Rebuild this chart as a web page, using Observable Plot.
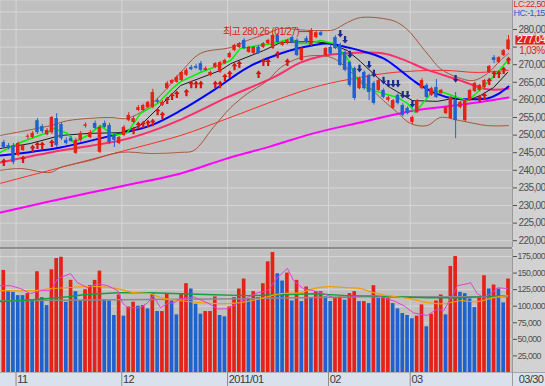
<!DOCTYPE html>
<html><head><meta charset="utf-8">
<script src="https://cdn.jsdelivr.net/npm/d3@7"></script>
<script src="https://cdn.jsdelivr.net/npm/@observablehq/plot@0.6"></script>
<style>
body{margin:0;background:#ffffff;}
#chart{position:relative;width:545px;height:386px;background:#d2d2d2;overflow:hidden;}
#chart svg{position:absolute;left:0;}
#chart svg text{letter-spacing:-0.6px;}
#strip{position:absolute;left:0;top:372px;width:545px;height:14px;background:#d9e1ec;border-top:1px solid #a0a4aa;box-sizing:border-box;}
#sep{position:absolute;left:0;top:247px;width:512px;height:2px;background:#8e8e8e;}
</style></head>
<body><div id="chart"><div id="strip"></div></div>
<script>
// ---------- data ----------
const openP = [247.9,247.0,247.0,244.2,245.6,249.4,249.3,254.1,252.4,250.1,
250.7,254.7,253.0,248.5,249.0,244.8,248.5,252.5,249.3,253.3,
245.1,253.3,252.7,249.9,247.6,249.9,254.1,253.6,257.0,257.0,
257.8,257.8,259.8,258.4,263.2,264.7,265.0,265.5,267.0,269.2,
269.5,270.3,268.4,266.9,269.2,267.8,270.3,272.0,274.0,274.9,
276.9,273.5,273.2,274.9,274.9,276.0,274.6,278.3,275.5,276.0,
277.7,276.9,271.2,277.4,275.5,277.7,279.1,272.6,274.9,277.7,
275.5,273.5,270.6,268.9,263.2,267.8,266.9,264.7,262.7,262.7,
259.9,257.6,261.3,258.4,257.6,253.6,256.4,263.2,264.1,261.3,
263.5,261.8,256.1,254.7,259.8,257.8,254.1,259.8,262.4,262.7,
263.5,267.8,272.0,270.6,272.6,274.3];
const highP = [248.5,247.6,247.6,248.0,247.3,250.2,251.0,254.7,253.0,251.9,
255.3,256.1,253.5,249.2,249.6,249.0,251.0,253.5,251.3,254.0,
252.7,254.0,253.3,250.5,249.6,252.7,256.4,255.3,258.4,258.8,
259.6,263.0,260.4,259.8,265.2,265.8,266.9,268.1,268.9,269.8,
270.1,270.9,269.4,268.2,270.6,270.9,271.6,273.6,275.8,276.3,
277.4,275.2,275.2,275.5,276.3,277.2,278.6,278.9,276.6,277.2,
278.3,277.4,274.9,278.0,280.26,279.4,279.6,274.9,275.5,278.2,
276.1,274.0,271.0,269.3,266.5,268.2,267.3,265.2,265.9,263.1,
261.0,260.1,261.7,258.9,258.0,255.4,260.1,266.0,264.6,263.6,
265.8,263.0,258.1,261.0,262.1,259.6,260.1,263.0,265.0,264.4,
265.8,269.8,272.6,272.3,274.3,278.3];
const lowP = [246.2,245.8,241.6,243.9,245.3,248.8,249.0,250.2,250.5,249.8,
250.2,246.5,248.5,247.2,247.9,244.5,248.0,252.0,249.0,251.5,
244.8,251.9,247.3,246.5,247.3,249.6,253.8,253.3,256.7,256.7,
257.5,257.5,258.9,258.1,262.9,264.4,264.7,265.2,266.7,268.3,
268.7,268.0,268.1,266.6,268.9,267.5,270.0,271.7,273.7,274.6,
274.3,273.2,272.9,272.9,274.6,275.7,274.3,275.9,275.2,275.7,
276.0,272.3,270.9,276.0,275.2,277.4,278.0,272.3,272.7,274.3,
269.5,268.0,263.6,259.8,262.9,262.8,259.8,258.5,262.4,260.3,
259.4,257.3,258.6,255.2,255.8,253.0,256.1,262.9,260.4,261.0,
260.4,261.5,255.8,254.4,249.0,257.5,253.8,259.5,262.1,262.4,
263.2,267.5,270.3,270.3,272.3,274.0];
const closeP = [246.5,246.2,242.2,247.6,247.0,249.7,250.5,250.7,251.0,251.3,
255.0,247.0,249.0,247.6,248.2,248.5,250.5,252.9,250.7,251.9,
252.2,252.2,247.9,248.5,249.3,252.2,255.6,254.7,257.8,258.4,
259.3,262.1,259.3,259.3,264.7,265.5,266.4,267.8,268.4,268.6,
269.0,268.4,268.9,267.8,270.3,270.6,271.2,273.2,275.5,276.0,
274.6,274.9,274.9,273.2,276.0,276.9,278.3,276.3,276.3,276.9,
276.3,272.6,274.6,276.3,279.7,279.1,278.3,274.6,273.0,274.6,
269.8,268.4,264.1,260.4,266.1,263.2,262.1,259.0,265.5,260.7,
260.6,259.8,259.0,255.6,256.1,255.0,259.8,265.5,260.7,263.2,
260.7,262.7,257.8,260.7,254.1,259.3,259.8,262.7,264.7,264.1,
265.5,269.5,271.2,272.0,274.0,277.04];
// volume in thousands of shares, and the colour direction of each volume bar
const volumeK = [154,123,121,116,116,119,110,152,113,101,155,172,174,106,139,122,108,125,131,139,
153,110,108,86,117,85,99,106,100,101,96,120,92,92,119,108,87,
119,134,126,103,88,92,92,114,86,84,99,113,126,141,111,122,113,134,167,181,
149,138,150,108,139,107,129,113,122,122,114,107,113,114,109,119,122,107,
107,104,131,112,113,112,104,96,89,86,81,85,102,69,88,108,117,87,160,175,
121,119,111,98,113,146,126,132,126,105,141];
const volDir = ("RBBBBRBRBBRRRBRBBRRRRBBBRBRRBRBRBRRBB" +
  "RRBBBRRRBBRRRRBRBRRRBBRBRBRBRRBBRRBRRB" +
  "RBRBRRBBBBBRRBRRRBRRBBBBRRBRBBR").split("");

// moving averages: [bar index, value]
const ma5 = [[-0.7,245.1],[2.85,247.6],[6.2,249.3],[9.1,250.7],[10.3,251.9],[13.3,250.5],[14.5,247.9],[17.4,249.9],[20.1,252.7],[22.8,249.9],[25.7,250.7],[28.4,256.1],[32.0,259.0],[35.3,263.5],[36.8,265.2],[40.9,267.8],[43.6,269.2],[47.2,271.2],[49.2,274.6],[53.4,275.5],[56.1,276.0],[59.6,277.4],[61.7,276.0],[63.2,276.0],[65.9,276.9],[68.6,276.0],[71.5,271.8],[73.2,266.4],[75.6,263.2],[79.0,261.8],[81.9,260.7],[84.0,259.0],[85.6,256.4],[87.3,259.3],[89.4,262.7],[91.5,262.1],[94.4,260.7],[96.5,259.8],[98.5,262.1],[100.6,264.9],[102.7,267.8],[104.8,271.2]];
const ma10 = [[-0.7,246.2],[5.5,247.6],[11.8,249.9],[18.0,250.5],[24.3,250.7],[28.4,252.7],[32.6,258.4],[36.8,264.1],[45.1,268.4],[47.2,270.3],[54.0,274.0],[57.6,276.3],[64.4,276.6],[68.0,276.0],[71.5,274.0],[74.2,270.9],[77.7,266.4],[80.4,263.5],[85.0,259.8],[90.2,259.6],[93.5,260.4],[96.5,259.8],[99.2,261.3],[101.9,263.5],[104.8,267.8]];
const ma20 = [[-0.7,244.2],[11.8,246.5],[24.3,250.5],[30.5,252.7],[36.8,257.0],[43.6,262.7],[50.7,269.2],[57.6,273.2],[64.4,275.5],[67.3,276.0],[71.5,274.9],[74.2,274.0],[79.0,271.8],[82.5,268.4],[85.2,265.5],[86.7,264.1],[90.0,261.8],[93.5,260.4],[97.0,260.2],[100.6,260.4],[103.0,261.8],[105.0,263.8]];
const ma40 = [[-0.7,242.2],[11.8,245.6],[24.3,248.5],[30.5,251.0],[36.8,254.4],[46.5,260.7],[56.1,266.4],[61.7,270.6],[66.0,272.4],[70.7,273.2],[79.0,273.2],[83.0,271.5],[88.0,268.6],[95.0,265.5],[100.6,263.0],[105.0,263.2]];
const ma60 = [[-0.7,236.3],[11.8,240.8],[24.3,245.3],[36.8,249.9],[46.5,254.7],[57.6,260.4],[65.9,264.1],[74.2,266.4],[81.1,267.8],[91.5,268.4],[98.5,267.8],[105.0,268.4]];
const ma120 = [[-0.7,228.0],[8.7,230.9],[18.1,233.7],[27.4,236.3],[36.8,239.1],[46.5,243.4],[55.5,246.8],[64.4,250.5],[74.2,253.6],[84.6,256.8],[95.0,258.6],[105.0,260.7]];
const bbUpper = [[-0.7,249.9],[9.7,252.7],[13.3,254.1],[22.2,255.0],[25.3,254.7],[28.4,256.4],[32.6,261.3],[36.8,267.8],[40.9,273.2],[47.2,274.9],[50.7,276.9],[54.9,278.9],[57.6,280.3],[61.7,279.9],[65.9,279.7],[68.6,279.9],[71.5,282.0],[74.2,283.4],[79.0,283.1],[81.9,282.0],[84.6,279.1],[86.7,275.5],[88.5,272.5],[90.8,268.9],[94.4,266.4],[97.7,265.5],[100.6,267.5],[103.3,271.2],[105.0,273.2]];
const bbLower = [[-0.7,240.0],[3.5,240.5],[9.7,239.4],[11.8,240.8],[18.0,242.8],[24.3,245.1],[30.5,244.8],[36.8,245.1],[39.5,245.6],[43.6,252.2],[47.2,257.8],[50.7,261.8],[54.9,265.5],[57.6,269.2],[61.7,272.0],[65.9,272.6],[68.6,271.8],[70.7,269.8],[73.2,266.7],[75.6,264.1],[79.0,259.8],[81.9,256.4],[84.6,253.3],[88.1,252.7],[90.8,255.0],[95.0,254.1],[100.6,252.7],[105.0,252.7]];
// volume moving averages (thousands)
const vma5 = [[-0.7,131],[1.4,131],[3.5,126.5],[5.6,119],[7.6,123.5],[9.7,123.5],[11.2,141.7],[13.9,149.2],[15.3,135.6],[17.4,128],[19.5,134],[21.6,131],[23.7,123.5],[24.7,105],[25.7,97.7],[28.4,97.7],[29.9,105],[31.1,116],[32.6,97.7],[34.0,104],[35.3,105],[36.8,111],[39.5,114],[42.4,105],[44.5,96],[46.5,96],[48.6,104],[50.7,113],[52.8,120.5],[54.9,123.5],[56.9,143],[59.0,157],[60.3,138.6],[62.3,126.5],[64.4,123.5],[66.5,119],[68.6,113],[71.5,113],[74.2,116],[77.7,116],[81.1,108],[83.2,101],[85.2,90],[88.1,86],[90.2,96],[91.5,93],[92.9,111],[94.4,131],[96.5,134],[97.1,135.6],[98.5,119],[99.8,113],[101.3,119],[102.7,128],[104.8,126.5]];
const vma20 = [[-0.7,123.5],[6.2,123.5],[9.7,126.5],[13.3,128],[16.6,129.5],[20.1,129.5],[23.7,126.5],[27.0,120.5],[30.5,119],[32.6,113],[36.8,108.3],[40.9,105.3],[45.1,103.8],[49.2,105.3],[53.4,111.4],[57.6,119],[61.7,120.5],[64.4,126.5],[67.3,129.5],[71.5,128],[74.2,126.5],[76.9,120.5],[79.8,116],[84.6,111.4],[88.1,105.3],[91.5,103.8],[95.0,108.3],[98.5,106.8],[101.9,113],[104.8,116]];
const vma60 = [[-0.7,107.3],[6.2,109.8],[13.3,114.4],[16.6,117.4],[20.1,118.9],[23.7,120.5],[30.5,120.5],[36.8,118.9],[43.6,117.4],[50.7,116],[57.6,117.4],[64.4,118.9],[71.5,116],[74.2,116],[81.1,114.4],[88.1,112.9],[95.0,112.9],[104.8,116]];
const vma120 = [[-0.7,108.3],[24.3,109.8],[49.2,111.4],[74.2,114.4],[104.8,114.4]];

// signal arrows: bar index and price of the arrow tip
const upArrowIdx = [0,4,6,7,8,10,27,28,29,30,31,32,33,34,35,36,38,39,40,41,44,45,46,47,48,49,53,54,55,57,59,99,100,101,102,103,104,105];
const upArrowTip = [243.4,244.2,247.3,248.2,248.2,248.8,252.4,253.9,254.1,254.4,254.7,257.8,256.7,261.0,262.1,262.7,263.2,265.5,265.5,265.5,265.5,265.5,267.5,268.4,270.6,271.2,268.4,271.8,271.8,274.0,271.8,261.5,262.1,266.4,268.4,268.4,269.5,272.3];
const downArrowIdx = [70,71,72,74,76,77,79,80,81,82,83,84,85,94];
const downArrowTip = [277.7,276.0,271.8,267.8,268.9,266.4,264.4,263.5,263.5,263.5,260.4,260.4,257.8,264.9];

// axis & labels
const monthStart = [3,25,47,68,85];
const monthLabel = ["11","12","2011/01","02","03"];
const lastDateLabel = "03/30";
const priceTicks = [220,225,230,235,240,245,250,255,260,265,270,275,280];
const priceGrid = [220,225,230,235,240,245,250,255,260,265,270,275,280,285];
const volTicks = [25,50,75,100,125,150,175];
const highIdx = 64, highVal = 280.26, highDate = "01/27";
const changePct = 1.03;
const lcVal = 22.50, hcVal = -1.15;

// ---------- drawing ----------
const X0 = -0.687, X1 = 105.83;
const RED = "#e62117", BLUE = "#1f62cf", ARROW_RED = "#d81410", NAVY = "#1c2a90";
const FONT = "'Liberation Sans Narrow','Arial Narrow','Liberation Sans','Noto Sans CJK KR',sans-serif";
const fmt2 = d => d.toFixed(2).replace(".", ",");
const lastClose = closeP[closeP.length - 1];

const bars = d3.range(closeP.length).map(i => ({
  i, o: openP[i], h: highP[i], l: lowP[i], c: closeP[i], v: volumeK[i], vd: volDir[i]
}));
const ups = upArrowIdx.map((i, k) => ({i, t: upArrowTip[k]}));
const downs = downArrowIdx.map((i, k) => ({i, t: downArrowTip[k]}));

const upArrow = {draw(ctx) {
  ctx.moveTo(0, 0); ctx.lineTo(2.8, 3.6); ctx.lineTo(1.1, 3.6); ctx.lineTo(1.1, 7.6);
  ctx.lineTo(-1.1, 7.6); ctx.lineTo(-1.1, 3.6); ctx.lineTo(-2.8, 3.6); ctx.closePath();
}};
const downArrow = {draw(ctx) {
  ctx.moveTo(0, 0); ctx.lineTo(2.8, -3.6); ctx.lineTo(1.1, -3.6); ctx.lineTo(1.1, -7.6);
  ctx.lineTo(-1.1, -7.6); ctx.lineTo(-1.1, -3.6); ctx.lineTo(-2.8, -3.6); ctx.closePath();
}};

const P = (d) => d[0], V = (d) => d[1];
const line = (data, stroke, w, curve = "catmull-rom") =>
  Plot.line(data, {x: P, y: V, stroke, strokeWidth: w, curve});

const pricePlot = Plot.plot({
  width: 545, height: 247,
  marginLeft: 0, marginRight: 33, marginTop: 0, marginBottom: 0,
  style: {background: "transparent", fontFamily: FONT, fontSize: "10px", color: "#505050", overflow: "hidden"},
  x: {type: "linear", domain: [X0, X1], axis: null},
  y: {domain: [218.07, 288.24], axis: "right", ticks: priceTicks,
      tickFormat: d => d === 275 ? "" : fmt2(d), tickSize: 4, tickPadding: 2, label: null},
  marks: [
    Plot.frame({fill: "#c0c0c0", stroke: "none"}),
    Plot.ruleY(priceGrid, {stroke: "#d6d6d6", strokeWidth: 1}),
    Plot.ruleX(monthStart, {x: d => d - 0.45, stroke: "#d6d6d6"}),
    line(ma120, "#ff00ff", 2),
    line(ma60, "#ff2a2a", 1),
    line(ma40, "#ff2d6c", 2),
    line(bbUpper, "#a4583a", 1),
    line(bbLower, "#a4583a", 1),
    line(ma20, "#0000ff", 2),
    line(ma10, "#1a1a1a", 1, "linear"),
    line(ma5, "#00f000", 1.5, "linear"),
    Plot.ruleX(bars, {x: "i", y1: "l", y2: "h", stroke: d => d.c >= d.o ? RED : BLUE, strokeWidth: 1}),
    Plot.rect(bars, {x1: d => d.i - 0.36, x2: d => d.i + 0.36, y1: "o", y2: "c",
      fill: d => d.c >= d.o ? RED : BLUE}),
    Plot.dot(ups, {x: "i", y: "t", symbol: upArrow, r: 3, fill: ARROW_RED, stroke: "none"}),
    Plot.dot(downs, {x: "i", y: "t", symbol: downArrow, r: 3, fill: NAVY, stroke: "none"}),
    Plot.ruleY([highVal], {x1: highIdx - 2.5, x2: highIdx, dy: 3, stroke: "#e02020", strokeWidth: 1}),
    Plot.text([highVal], {x: highIdx - 2.6, y: d => d, dy: 3, textAnchor: "end",
      text: d => `최고 ${fmt2(d)} (${highDate})`, fill: "#e02020", fontSize: 10}),
    Plot.ruleX([X1], {stroke: "#9a9a9a"}),
    Plot.ruleY([lastClose], {x1: X1 + 0.7, x2: X1 + 8, stroke: "#e02020", strokeWidth: 9}),
    Plot.text([lastClose], {x: X1 + 0.95, y: d => d, text: d => fmt2(d), fill: "white", textAnchor: "start", fontSize: 10.5}),
    Plot.text([changePct], {x: X1 + 1.4, y: () => lastClose, dy: 10.5, text: d => fmt2(d) + "%", fill: "#e02020", textAnchor: "start", fontSize: 10}),
    Plot.text([lcVal], {frameAnchor: "top-right", dx: 1, dy: 3.5, lineAnchor: "middle", textAnchor: "start",
      text: d => "LC:" + fmt2(d), fill: "#e02828", fontSize: 9}),
    Plot.text([hcVal], {frameAnchor: "top-right", dx: 1, dy: 12.5, lineAnchor: "middle", textAnchor: "start",
      text: d => "HC:" + fmt2(d), fill: "#2a62d0", fontSize: 9})
  ]
});

const volPlot = Plot.plot({
  width: 545, height: 139,
  marginLeft: 0, marginRight: 33, marginTop: 2, marginBottom: 14,
  style: {background: "transparent", fontFamily: FONT, fontSize: "8.8px", color: "#505050", overflow: "hidden"},
  x: {type: "linear", domain: [X0, X1], axis: null},
  y: {domain: [0, 185.6], axis: "right", ticks: volTicks,
      tickFormat: d => d3.format(",")(d * 1000), tickSize: 4, tickPadding: 1, label: null},
  marks: [
    Plot.frame({fill: "#c0c0c0", stroke: "none"}),
    Plot.ruleY(volTicks, {stroke: "#d6d6d6"}),
    Plot.ruleX(monthStart, {x: d => d - 0.45, stroke: "#d6d6d6"}),
    Plot.rect(bars, {x1: d => d.i - 0.38, x2: d => d.i + 0.38, y1: 0, y2: "v",
      fill: d => d.vd === "R" ? RED : BLUE}),
    line(vma120, "#8a8a8a", 1.5, "linear"),
    line(vma60, "#14a040", 1.5, "linear"),
    line(vma20, "#f0a000", 1.2),
    line(vma5, "#e040d8", 1, "linear"),
    Plot.ruleX(monthStart, {x: d => d - 0.45, y1: 0, y2: -21, stroke: "#8a8a8a"}),
    Plot.ruleX([X1], {y1: -21, y2: 185.6, stroke: "#9a9a9a"}),
    Plot.text(monthStart, {x: d => d - 0.2, y: -10.6, text: (d, k) => monthLabel[k],
      textAnchor: "start", fill: "#3a3a3a", fontSize: 11}),
    Plot.text([lastDateLabel], {x: X1 + 1.3, y: -10.6, text: d => d, textAnchor: "start", fill: "#3a3a3a", fontSize: 11})
  ]
});

const chart = document.getElementById("chart");
pricePlot.style.top = "0px";
volPlot.style.top = "247px";
chart.appendChild(pricePlot);
chart.appendChild(volPlot);
const sep = document.createElement("div");
sep.id = "sep";
chart.appendChild(sep);
</script></body></html>
